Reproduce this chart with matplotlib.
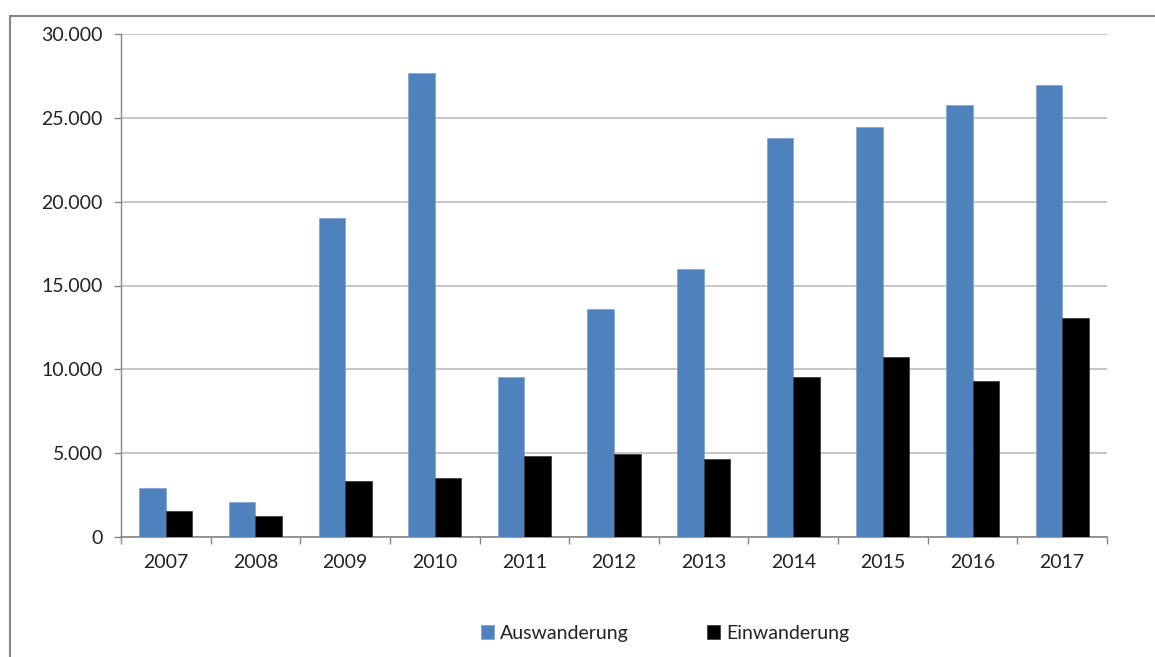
import numpy as np
import matplotlib
matplotlib.use("Agg")
import matplotlib.pyplot as plt
import matplotlib.patches as m_patches
from matplotlib.ticker import FuncFormatter, FixedLocator

years = ["2007", "2008", "2009", "2010", "2011", "2012",
         "2013", "2014", "2015", "2016", "2017"]
auswanderung = [2950, 2100, 19000, 27650, 9550, 13600,
                16000, 23800, 24450, 25750, 26950]
einwanderung = [1550, 1250, 3350, 3520, 4820, 4960,
                4680, 9530, 10730, 9280, 13060]

BLUE = "#4F81BD"
plt.rcParams["font.family"] = ["Lato", "DejaVu Sans"]

fig = plt.figure(figsize=(11.55, 6.57), dpi=100)
ax = fig.add_axes([121 / 1155, 1 - 537 / 657, (1107 - 121) / 1155, (537 - 34) / 657])

# outer chart frame (only left and top visible in the crop)
frame = m_patches.Rectangle((10 / 1155, -0.1), 1.2, 1.1 - 16 / 657,
                            transform=fig.transFigure, fill=False,
                            edgecolor="#868686", linewidth=1.5, clip_on=False)
fig.add_artist(frame)

x = np.arange(len(years))
w = 0.296
ax.bar(x - w / 2, auswanderung, w, color=BLUE, edgecolor="#7EA3D1",
       linewidth=0.5, label="Auswanderung", zorder=3)
ax.bar(x + w / 2, einwanderung, w, color="black", edgecolor="#333333",
       linewidth=0.5, label="Einwanderung", zorder=3)

ax.set_xlim(-0.5, len(years) - 0.5)
ax.set_ylim(0, 30000)
ax.set_yticks(np.arange(0, 30001, 5000))
ax.yaxis.set_major_formatter(FuncFormatter(lambda v, p: f"{int(v):,}".replace(",", ".")))
ax.grid(axis="y", color="#BEBEBE", linewidth=1.2, zorder=0)

ax.set_xticks(x)
ax.set_xticklabels(years)
ax.xaxis.set_minor_locator(FixedLocator(np.arange(-0.5, len(years), 1.0)))
ax.tick_params(axis="x", which="major", length=0, pad=12, labelsize=14, labelcolor="#222222")
ax.tick_params(axis="x", which="minor", length=5, width=1, color="#868686", direction="out")
ax.tick_params(axis="y", length=5, width=1, color="#868686", pad=8,
               labelsize=14, labelcolor="#222222")

for side in ["top", "right"]:
    ax.spines[side].set_visible(False)
ax.spines["left"].set_color("#868686")
ax.spines["bottom"].set_color("#868686")
ax.spines["left"].set_linewidth(1)
ax.spines["bottom"].set_linewidth(1.2)

fig.legend(loc="center", bbox_to_anchor=(665 / 1155, 1 - 633 / 657), ncol=2,
           frameon=False, fontsize=14, handlelength=0.7, handleheight=0.7,
           handletextpad=0.3, columnspacing=4.0, labelcolor="#222222")

fig.savefig("out.png", dpi=100)
